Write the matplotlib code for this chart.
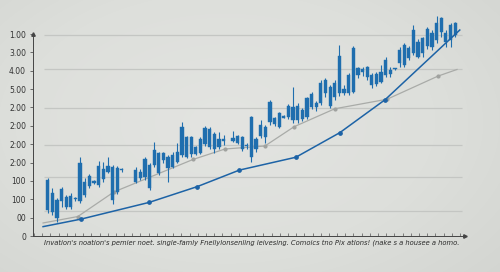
import numpy as np
import matplotlib
matplotlib.use("Agg")
import matplotlib.pyplot as plt
from matplotlib.colors import LinearSegmentedColormap

nan = np.nan

# ---- data (candle index = trading period) ----
high = [3.16, 2.61, 2.07, 2.67, 2.23, 2.34, 2.12, 4.30, 3.16, 3.38, 3.05, 4.09, 4.03, 4.30, 3.87, 3.81, 3.70, nan, nan,
        3.76, 3.65, 4.30, 3.98, 5.12, 4.58, 4.58, 4.41, 4.58, 5.07, 6.21, 5.45, 5.45, 4.90, 5.39, 5.99, 5.94, 5.66, 5.66, 5.50, nan,
        5.72, 5.50, 5.45, 5.07, 6.54, 5.39, 6.32, 6.05, 7.41, 6.48, 6.75, 6.59, 7.19, 8.12, 7.24, 6.97, 7.57, 7.84, 7.35, 8.50,
        8.61, 8.22, 8.50, 10.40, 8.22, 8.88, 10.35, 9.21, 9.21, 9.26, 8.88, 8.93, 9.31, 9.75, 9.21, 9.15, 10.29, 10.51, 10.35,
        11.49, 10.73, 10.84, 11.38, 11.22, 11.98, 11.93, 11.22, 11.60, 11.66]
open_ = [3.05, 2.34, 1.96, 2.56, 2.12, 2.18, 2.04, 3.98, 2.94, 3.27, 2.97, 3.81, 3.65, 3.81, 3.76, 3.70, 3.62, nan, nan,
         3.59, 3.49, 4.19, 3.87, 4.68, 4.52, 4.52, 4.30, 4.41, 4.58, 5.94, 5.39, 5.39, 4.85, 5.28, 5.88, 5.83, 5.56, 5.28, 5.26, nan,
         5.34, 5.45, 5.39, 4.93, 6.48, 5.28, 6.05, 5.94, 7.30, 6.43, 6.70, 6.51, 7.08, 7.03, 7.08, 6.86, 7.52, 7.73, 7.24, 8.33,
         8.50, 8.12, 8.33, 9.80, 8.01, 8.77, 10.24, 9.15, 9.10, 9.21, 8.77, 8.82, 8.93, 9.59, 9.04, 9.12, 10.13, 10.40, 10.24,
         11.22, 10.57, 10.79, 11.28, 11.06, 11.60, 11.87, 11.06, 11.49, 11.60]
close = [1.42, 1.31, 0.98, 1.91, 1.58, 1.58, 1.99, 1.91, 2.23, 2.72, 2.91, 2.78, 3.10, 3.49, 1.96, 2.40, 3.57, nan, nan,
         2.94, 3.16, 3.21, 2.61, 3.87, 3.43, 4.14, 3.70, 3.76, 4.03, 4.41, 4.30, 4.47, 4.47, 4.52, 5.01, 4.85, 4.74, 4.85, 5.20, nan,
         5.17, 5.07, 4.74, 4.88, 4.30, 4.74, 5.45, 5.39, 6.21, 6.10, 5.94, 6.45, 6.48, 6.32, 6.32, 6.37, 6.48, 7.03, 7.03, 7.24,
         7.79, 7.08, 7.57, 7.79, 7.79, 7.79, 7.84, 8.77, 8.93, 8.66, 8.22, 8.28, 8.39, 8.77, 8.82, 9.07, 9.42, 9.31, 9.70,
         9.97, 9.75, 9.97, 10.35, 10.29, 10.68, 11.11, 10.57, 10.68, 10.95]
low = [1.25, 1.14, 0.76, 1.58, 1.47, 1.47, 1.91, 1.80, 2.12, 2.61, 2.83, 2.67, 2.94, 3.43, 1.74, 2.29, 3.49, nan, nan,
       2.89, 3.05, 3.05, 2.51, 3.76, 3.32, 3.98, 2.94, 3.70, 3.98, 4.30, 4.25, 4.30, 4.41, 4.47, 4.90, 4.74, 4.52, 4.74, 4.96, nan,
       5.12, 5.01, 4.63, 4.74, 4.03, 4.58, 5.34, 5.07, 6.05, 5.99, 5.88, 6.43, 6.37, 6.16, 6.16, 6.26, 6.37, 6.92, 6.81, 7.14,
       7.57, 6.97, 7.41, 7.63, 7.68, 7.68, 7.79, 8.61, 8.72, 8.50, 8.06, 8.17, 8.33, 8.66, 8.66, 9.04, 9.21, 9.21, 9.59,
       9.86, 9.70, 9.75, 10.19, 10.13, 10.51, 10.84, 10.29, 10.29, 10.84]

blue_x = [-1.0, 7.2, 21.9, 32.3, 41.4, 53.6, 63.1, 72.9, 89.0]
blue_y = [0.51, 0.92, 1.83, 2.69, 3.59, 4.29, 5.63, 7.43, 11.22]
gray_x = [-1.0, 6.5, 14.3, 31.4, 38.3, 46.9, 53.2, 62.0, 73.3, 84.3, 88.4]
gray_y = [0.71, 1.06, 2.40, 4.17, 4.74, 4.90, 5.95, 6.93, 7.45, 8.71, 9.07]

grid_levels = [1.36, 3.22, 4.96, 6.96, 9.07, 10.95]
ytick_labels = ["0", "00", "100", "100", "2:00", "2:00", "2:00", "2.00", "5.00", "4.00", "3.00", "1.00"]
caption = ("Invation's noation's pemier noet. single-famly Fnellylonsenling leivesing. "
           "Comoics tno Pix atlons! (nake s a housee a homo.")

# ---- figure ----
W, H = 500, 272
fig = plt.figure(figsize=(W / 100, H / 100), dpi=100)

# soft vignette background
bg = fig.add_axes([0, 0, 1, 1], zorder=-10)
yy, xx = np.mgrid[0:H, 0:W]
r = np.sqrt(((xx - W * 0.45) / (W * 0.7)) ** 2 + ((yy - H * 0.45) / (H * 0.8)) ** 2)
cmap = LinearSegmentedColormap.from_list("bg", ["#e3e4e1", "#dddfdb", "#d0d2ce"])
bg.imshow(np.clip(r, 0, 1.2), cmap=cmap, vmin=0, vmax=1.2, aspect="auto",
          extent=[0, 1, 0, 1], origin="upper")
bg.axis("off")

ax = fig.add_axes([33 / W, 36 / H, (480 - 33) / W, (262 - 36) / H])
ax.set_facecolor("none")
xl, xr = -3.175, 93.37
ax.set_xlim(xl, xr)
ax.set_ylim(0, 12.31)

idx = np.arange(len(high))
hi = np.array(high); lo = np.array(low); op = np.array(open_); cl = np.array(close)

# gridlines
ax.hlines(grid_levels, -0.8, 89.5, color="#c4c6c3", lw=0.9, zorder=1)

cblue = "#1f6eae"
ax.vlines(idx, lo, hi, color=cblue, lw=0.8, zorder=3)
bottoms = np.minimum(op, cl)
heights = np.maximum(np.abs(op - cl), 0.07)
ax.bar(idx, heights, bottom=bottoms, width=0.7, color=cblue, edgecolor=cblue, lw=0.3, zorder=4)

ax.plot(gray_x, gray_y, color="#a9aba8", lw=0.9, zorder=2)
ax.plot(gray_x[1:-1], gray_y[1:-1], ls="none", marker="o", ms=2.0, color="#a0a29f", zorder=2)
ax.plot(blue_x, blue_y, color="#1d63a6", lw=1.1, zorder=5)
ax.plot(blue_x[1:-1], blue_y[1:-1], ls="none", marker="o", ms=2.4, color="#1d63a6", zorder=5)

# axes
for s in ["top", "right"]:
    ax.spines[s].set_visible(False)
ax.spines["left"].set_bounds(0, 11)
x_end = 90.13
ax.spines["bottom"].set_bounds(xl, x_end)
for s in ["left", "bottom"]:
    ax.spines[s].set_color("#444444")
    ax.spines[s].set_linewidth(0.7)
ax.plot([x_end], [0], marker=">", ms=2.5, color="#444444", clip_on=False, zorder=6)
ax.plot([xl], [11], marker="^", ms=2.5, color="#444444", clip_on=False, zorder=6)

ax.set_yticks(range(len(ytick_labels)))
ax.set_yticklabels(ytick_labels, fontsize=5.5, color="#333333")
ax.tick_params(axis="y", length=2, width=0.6, color="#555555", pad=3)
ax.set_xticks(np.linspace(-2.96, 89.05, 53))
ax.set_xticklabels([])
ax.tick_params(axis="x", direction="in", length=2.2, width=0.5, color="#555555")

fig.text((42 + 462) / 2 / W, 1 - 243 / H, caption, ha="center", va="center",
         fontsize=4.85, style="italic", color="#2a2a2a")

fig.savefig("out.png", dpi=100)
